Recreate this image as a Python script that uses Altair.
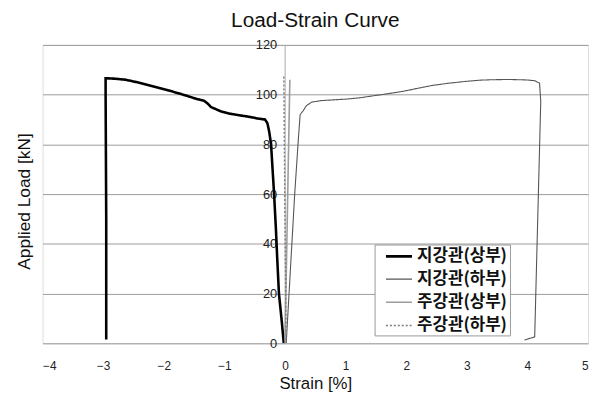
import altair as alt
import pandas as pd

series_names = ["지강관(상부)", "지강관(하부)", "주강관(상부)", "주강관(하부)"]

s1_strain = [-0.02, -0.05, -0.10, -0.13, -0.15, -0.18, -0.21, -0.23, -0.26, -0.29, -0.33, -0.45,
             -0.57, -0.75, -0.90, -1.05, -1.22, -1.28, -1.34, -1.45, -1.55, -1.75, -1.98, -2.20,
             -2.37, -2.50, -2.63, -2.80, -2.96, -2.96, -2.95, -2.95]
s1_load = [0, 8, 20, 35, 46, 60, 72, 80, 85, 88.5, 90, 90.4, 91, 91.7, 92.3, 93.2, 95, 96.5,
           97.6, 98.2, 99, 100.5, 102.1, 103.5, 104.6, 105.3, 106, 106.4, 106.6, 100, 50, 1.5]

s2_strain = [0.02, 0.09, 0.16, 0.22, 0.25, 0.30, 0.35, 0.44, 0.60, 1.00, 1.23, 1.39, 1.65, 1.94,
             2.20, 2.43, 2.70, 2.97, 3.20, 3.41, 3.70, 4.00, 4.12, 4.20, 4.22, 4.17, 4.12, 3.95]
s2_load = [0, 30, 60, 82, 92, 93.5, 95.5, 97, 97.6, 98.2, 98.7, 99.3, 100.2, 101.3, 102.6, 103.7,
           104.6, 105.3, 105.8, 106, 106.1, 105.9, 105.6, 104.6, 97.3, 50, 2.6, 1.3]

s3_strain = [0.00, 0.03, 0.06, 0.08]
s3_load = [0, 40, 80, 106]

s4_strain = [0.02, 0.00, -0.02]
s4_load = [0, 50, 107.5]

y_ticks = [0, 20, 40, 60, 80, 100, 120]

rows = []
for name, xs, ys in zip(series_names,
                        [s1_strain, s2_strain, s3_strain, s4_strain],
                        [s1_load, s2_load, s3_load, s4_load]):
    for i, (x, y) in enumerate(zip(xs, ys)):
        rows.append({"series": name, "strain": x, "load": y, "idx": i})
df = pd.DataFrame(rows)

W, H = 552, 302

lines = alt.Chart(df).mark_line(clip=True).encode(
    x=alt.X("strain:Q",
            scale=alt.Scale(domain=[-4, 5], nice=False),
            axis=alt.Axis(values=[-4, -3, -2, -1, 0, 1, 2, 3, 4, 5], format="d",
                          title="Strain [%]", grid=False, ticks=False, domain=False,
                          labelFontSize=12, labelPadding=17, labelColor="#222",
                          titleFontSize=17, titleFontWeight="normal", titlePadding=5,
                          titleColor="#111", labelFont="Liberation Sans",
                          titleFont="Liberation Sans")),
    y=alt.Y("load:Q",
            scale=alt.Scale(domain=[0, 120], nice=False),
            axis=alt.Axis(values=y_ticks, title="Applied Load [kN]", offset=-245,
                          grid=True, gridColor="#9a9a9a", gridWidth=1,
                          domain=True, domainColor="#aaaaaa", ticks=False,
                          labelFontSize=13, labelPadding=8, labelColor="#222",
                          labelFont="Liberation Sans", titleFont="Liberation Sans",
                          titleFontSize=17.5, titleFontWeight="normal", titleColor="#111",
                          titleX=-263, titleY=H / 2 + 7, titleAngle=-90,
                          titleBaseline="middle", titleAlign="center", zindex=0)),
    color=alt.Color("series:N",
                    scale=alt.Scale(domain=series_names,
                                    range=["#000000", "#555555", "#9c9c9c", "#7a7a7a"]),
                    legend=alt.Legend(title=None, orient="none", legendX=336, legendY=202,
                                      fillColor="white", strokeColor="#999999",
                                      padding=2, labelFontSize=17, labelFontWeight="bold",
                                      labelFont="Noto Sans CJK KR", labelColor="#111",
                                      symbolType="M-1,0H2.1", symbolSize=289,
                                      symbolOffset=8, rowPadding=5.5,
                                      labelOffset=13, labelLimit=200)),
    strokeWidth=alt.StrokeWidth("series:N",
                                scale=alt.Scale(type="ordinal", domain=series_names,
                                                range=[2.6, 1.1, 1.6, 1.4]),
                                legend=alt.Legend(title=None)),
    strokeDash=alt.StrokeDash("series:N",
                              scale=alt.Scale(domain=series_names,
                                              range=[[1, 0], [1, 0], [1, 0], [2, 2]]),
                              legend=alt.Legend(title=None)),
    order="idx:Q",
)

chart = lines.properties(
    width=W, height=H,
    autosize=alt.AutoSizeParams(type="none"),
    padding={"left": 35, "top": 35, "right": 2, "bottom": 54},
    title=alt.Title("Load-Strain Curve", fontSize=21, fontWeight="normal",
                    font="Liberation Sans", color="#111", anchor="middle",
                    frame="group", offset=8),
).configure_view(stroke="#999999", strokeWidth=1).configure(background="white")

chart.save("out.html", embed_options={"renderer": "svg", "actions": False})
